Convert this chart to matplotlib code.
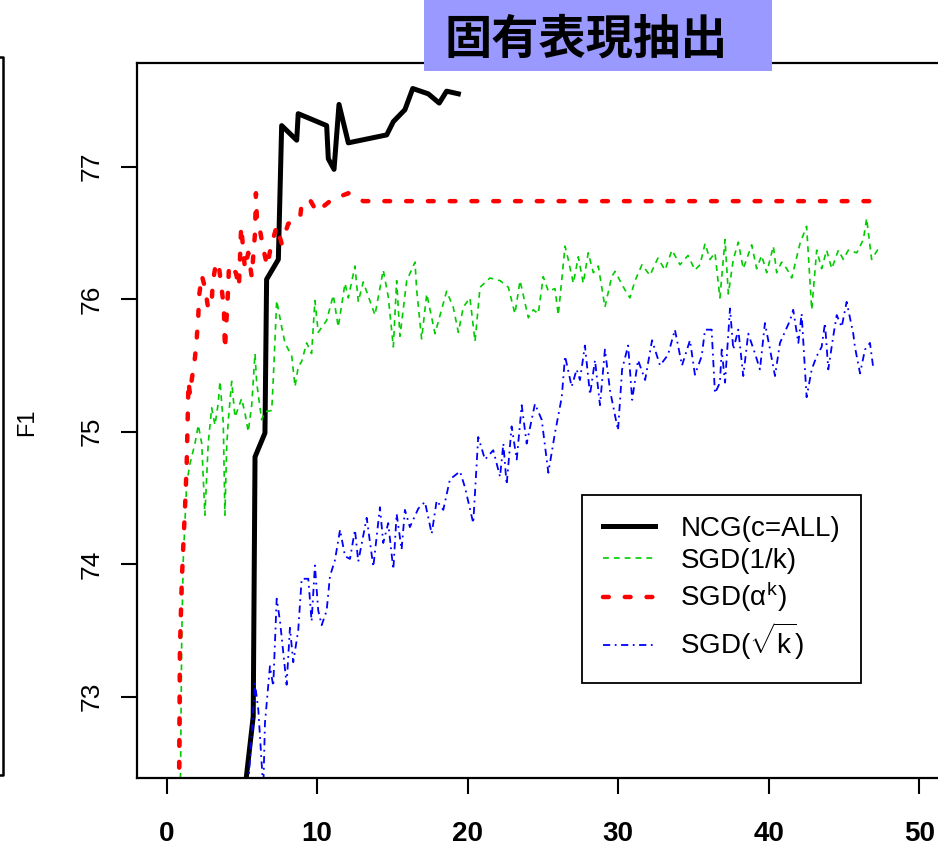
import matplotlib
matplotlib.use('Agg')
import matplotlib.pyplot as plt
from matplotlib.patches import Rectangle
from matplotlib.lines import Line2D

plt.rcParams['font.family'] = ['Liberation Sans', 'DejaVu Sans']
plt.rcParams['mathtext.fontset'] = 'custom'
plt.rcParams['mathtext.rm'] = 'Liberation Sans'
plt.rcParams['mathtext.it'] = 'Liberation Sans'
plt.rcParams['mathtext.bf'] = 'Liberation Sans:bold'

title = '固有表現抽出'
ylabel = 'F1'
xticks = [0, 10, 20, 30, 40, 50]
yticks = [73, 74, 75, 76, 77]
labels = ['NCG(c=ALL)', 'SGD(1/k)', r'SGD($\alpha^{k}$)', r'SGD($\sqrt{k}$)']

# NCG (c=ALL)
ncg_x = [5.10, 5.75, 5.87, 6.53, 6.64, 7.42, 7.64, 8.64, 8.74, 10.63, 10.74,
         11.12, 11.45, 12.07, 14.62, 15.06, 15.83, 16.35, 17.38, 18.11, 18.60, 19.38]
ncg_y = [72.20, 72.85, 74.81, 74.99, 76.15, 76.30, 77.31, 77.20, 77.40, 77.31, 77.06,
         76.98, 77.47, 77.18, 77.24, 77.34, 77.43, 77.59, 77.55, 77.48, 77.57, 77.55]

# SGD, step 1/k
g_x = [0.90, 0.93, 1.00, 1.10, 1.33, 1.55, 1.88, 2.10, 2.33, 2.54, 2.76, 2.99, 3.21, 3.43,
       3.54, 3.76, 3.87, 3.99, 4.09, 4.32, 4.54, 4.98, 5.20, 5.42, 5.65, 5.87, 5.98, 6.31,
       6.53, 6.98, 7.08, 7.31, 7.64, 7.86, 8.31, 8.53, 8.74, 8.97, 9.30, 9.63, 9.85, 10.07,
       10.63, 11.07, 11.40, 11.85, 12.07, 12.51, 12.73, 13.06, 13.84, 14.39, 14.72, 15.06,
       15.28, 15.50, 15.95, 16.50, 16.61, 16.94, 17.28, 17.83, 18.60, 19.04, 19.38, 19.71,
       20.15, 20.49, 20.82, 21.48, 22.15, 22.70, 23.14, 23.48, 24.03, 24.36, 24.69, 25.02,
       25.36, 25.80, 26.02, 26.47, 26.68, 27.02, 27.35, 27.68, 28.01, 28.35, 28.68, 29.12,
       29.57, 29.79, 30.45, 30.78, 31.12, 31.58, 32.11, 32.64, 33.11, 33.57, 34.11, 34.64,
       35.10, 35.44, 35.77, 36.10, 36.43, 36.76, 37.10, 37.32, 37.65, 37.98, 38.31, 38.87,
       39.20, 39.53, 39.87, 40.31, 40.53, 40.86, 41.20, 41.53, 42.08, 42.52, 42.86, 43.19,
       43.52, 43.85, 44.19, 44.63, 44.96, 45.29, 45.85, 46.29, 46.51, 46.84, 47.28]
g_y = [72.30, 72.50, 73.45, 74.03, 74.61, 74.76, 74.91, 75.05, 74.91, 74.37, 74.91, 75.18,
       75.05, 75.22, 75.38, 75.07, 74.37, 74.89, 75.08, 75.38, 75.11, 75.25, 75.14, 75.00,
       75.20, 75.59, 75.37, 75.09, 75.15, 75.16, 75.39, 75.99, 75.79, 75.67, 75.57, 75.34,
       75.49, 75.53, 75.67, 75.59, 75.99, 75.75, 75.84, 76.03, 75.79, 76.12, 76.01, 76.25,
       75.98, 76.13, 75.88, 76.22, 76.02, 75.64, 76.14, 75.72, 76.14, 76.28, 76.07, 75.70,
       76.04, 75.74, 76.06, 75.94, 75.75, 75.94, 76.01, 75.68, 76.09, 76.16, 76.14, 76.09,
       75.89, 76.14, 75.86, 75.92, 75.89, 76.17, 76.06, 76.08, 75.88, 76.40, 76.30, 76.12,
       76.32, 76.12, 76.35, 76.20, 76.25, 75.94, 76.17, 76.21, 76.07, 76.01, 76.14, 76.26,
       76.18, 76.31, 76.22, 76.37, 76.26, 76.33, 76.22, 76.26, 76.42, 76.30, 76.35, 76.01,
       76.45, 76.04, 76.30, 76.43, 76.23, 76.41, 76.23, 76.33, 76.20, 76.40, 76.20, 76.28,
       76.23, 76.16, 76.42, 76.55, 75.92, 76.37, 76.23, 76.37, 76.23, 76.37, 76.30, 76.37,
       76.35, 76.45, 76.61, 76.30, 76.38]

# SGD, step alpha^k
r_x = [0.82, 0.88, 1.00, 1.10, 1.22, 1.33, 1.45, 1.55, 1.65, 1.88, 2.00, 2.10, 2.15, 2.33,
       2.54, 2.76, 2.99, 3.06, 3.28, 3.49, 3.65, 3.80, 3.87, 4.09, 4.14, 4.60, 4.80, 4.95,
       5.20, 5.42, 5.65, 5.87, 5.93, 6.00, 6.20, 6.42, 6.68, 6.93, 7.31, 7.64, 8.08, 8.86,
       8.97, 9.52, 9.97, 10.96, 12.07, 13.06, 47.00]
r_y = [72.30, 73.35, 73.86, 74.13, 74.43, 74.76, 75.38, 75.28, 75.38, 75.56, 75.71, 75.87,
       76.02, 76.18, 76.09, 75.93, 75.98, 76.12, 76.28, 76.23, 76.08, 75.94, 75.62, 76.09,
       76.26, 76.20, 76.09, 76.55, 76.23, 76.35, 76.17, 76.50, 76.80, 76.60, 76.52, 76.38,
       76.25, 76.40, 76.55, 76.42, 76.57, 76.61, 76.72, 76.75, 76.66, 76.75, 76.80, 76.74,
       76.74]

# SGD, step 1/sqrt(k)
b_x = [5.42, 5.87, 6.09, 6.42, 6.53, 6.86, 7.08, 7.31, 7.53, 7.97, 8.19, 8.41, 8.74, 8.97,
       9.41, 9.63, 9.85, 10.07, 10.30, 10.63, 10.85, 11.18, 11.52, 11.85, 12.18, 12.51,
       12.73, 13.29, 13.73, 14.17, 14.39, 14.72, 15.06, 15.28, 15.61, 15.83, 16.16, 16.72,
       17.16, 17.61, 17.94, 18.38, 18.82, 19.49, 19.82, 20.37, 20.70, 21.15, 21.70, 22.15,
       22.37, 22.59, 22.92, 23.26, 23.59, 23.92, 24.47, 24.92, 25.36, 25.80, 26.25, 26.47,
       26.91, 27.24, 27.46, 27.79, 28.13, 28.46, 28.79, 29.12, 29.46, 29.99, 30.26, 30.66,
       30.93, 31.32, 31.79, 32.25, 32.78, 33.31, 33.77, 34.24, 34.77, 35.10, 35.55, 35.77,
       36.21, 36.43, 36.76, 36.88, 37.10, 37.43, 37.65, 37.98, 38.31, 38.64, 39.09, 39.42,
       39.75, 40.09, 40.42, 40.75, 41.42, 41.63, 41.97, 42.19, 42.52, 42.86, 43.19, 43.52,
       43.74, 43.96, 44.29, 44.52, 44.85, 45.18, 45.62, 45.73, 46.07, 46.40, 46.73, 46.95]
b_y = [72.33, 73.10, 72.90, 72.30, 72.80, 73.23, 73.08, 73.74, 73.57, 73.09, 73.52, 73.26,
       73.50, 73.89, 73.89, 73.57, 73.99, 73.65, 73.54, 73.65, 73.91, 74.03, 74.26, 74.06,
       74.04, 74.26, 74.02, 74.35, 73.98, 74.43, 74.16, 74.31, 73.96, 74.38, 74.11, 74.41,
       74.28, 74.42, 74.47, 74.23, 74.48, 74.41, 74.64, 74.70, 74.58, 74.31, 74.96, 74.79,
       74.86, 74.66, 74.91, 74.60, 75.04, 74.79, 75.20, 74.91, 75.21, 75.09, 74.69, 74.99,
       75.26, 75.57, 75.34, 75.47, 75.39, 75.65, 75.28, 75.54, 75.20, 75.62, 75.31, 75.01,
       75.47, 75.65, 75.24, 75.54, 75.39, 75.69, 75.50, 75.58, 75.77, 75.50, 75.69, 75.43,
       75.57, 75.77, 75.77, 75.29, 75.37, 75.62, 75.37, 75.93, 75.62, 75.77, 75.42, 75.74,
       75.59, 75.47, 75.82, 75.62, 75.42, 75.67, 75.84, 75.92, 75.67, 75.89, 75.26, 75.47,
       75.57, 75.64, 75.82, 75.47, 75.72, 75.88, 75.79, 75.98, 75.74, 75.64, 75.44, 75.62,
       75.67, 75.48]

fig = plt.figure(figsize=(9.38, 8.47), dpi=100)
ax = fig.add_axes([0.1456, 0.0811, 0.8921, 0.8449])

ax.plot(ncg_x, ncg_y, color='black', lw=3.6, solid_joinstyle='round', label=labels[0])
ax.plot(g_x, g_y, color='#00CC00', lw=1.2, dashes=(3.5, 3), label=labels[1])
ax.plot(r_x, r_y, color='red', lw=3.2, dashes=(1.3, 3.6), dash_capstyle='round', label=labels[2])
ax.plot(b_x, b_y, color='blue', lw=1.3, dashes=(4, 2.5, 1, 2.5), label=labels[3])

ax.set_xlim(-2.0, 53.6)
ax.set_ylim(72.384, 77.785)
ax.set_xticks(xticks)
ax.set_yticks(yticks)
ax.set_xticklabels([str(v) for v in xticks], fontsize=20, fontweight='bold')
ax.set_yticklabels([str(v) for v in yticks], fontsize=19, rotation=90, va='center')
ax.tick_params(axis='both', direction='out', length=11.5, width=1.5)
ax.tick_params(axis='x', pad=19)
ax.tick_params(axis='y', pad=12)
for s in ax.spines.values():
    s.set_linewidth(1.6)

ax.set_ylabel(ylabel, fontsize=17)
ax.yaxis.set_label_coords(-0.118, 0.498)

leg = ax.legend(loc='upper left', bbox_to_anchor=(0.532, 0.396), fontsize=20,
                frameon=True, fancybox=False, edgecolor='black', framealpha=1,
                handlelength=1.9, handletextpad=0.9, labelspacing=0.22,
                borderpad=0.75, borderaxespad=0)
leg.get_frame().set_linewidth(1.3)

# title box over the top edge of the plot
fig.add_artist(Rectangle((0.452, 0.9165), 0.3707, 0.0835, transform=fig.transFigure,
                         facecolor='#9999FF', edgecolor='none', zorder=5))
fig.text(0.6253, 0.953, title, fontsize=34, fontweight='bold', ha='center', va='center',
         family=['Noto Sans CJK JP', 'DejaVu Sans'], zorder=6)

# edge of the neighbouring panel on the left
fig.add_artist(Line2D([0, 0.0037, 0.0037, 0], [0.9327, 0.9327, 0.085, 0.085],
                      transform=fig.transFigure, color='black', lw=1.8))

fig.savefig('out.png', dpi=100)
